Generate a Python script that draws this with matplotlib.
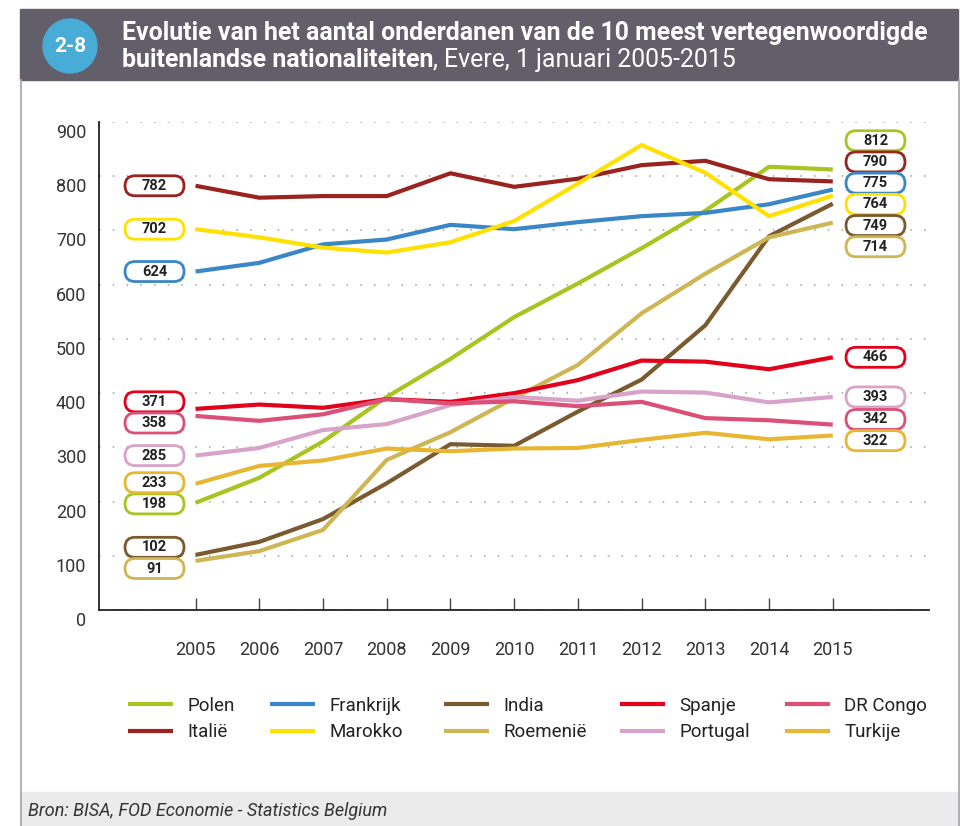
import matplotlib
matplotlib.use('Agg')
import numpy as np
import matplotlib.pyplot as plt
import matplotlib.transforms as mtransforms
from matplotlib.patches import FancyBboxPatch, Rectangle, Circle
from matplotlib.lines import Line2D

plt.rcParams['font.family'] = ['Roboto', 'DejaVu Sans']

jaren = list(range(2005, 2016))

# aantallen per nationaliteit, 1 januari
polen = [198, 244, 311, 393, 463, 540, 602, 667, 736, 817, 812]
frankrijk = [624, 640, 674, 683, 710, 702, 715, 726, 732, 748, 775]
india = [102, 126, 168, 234, 306, 303, 366, 425, 525, 689, 749]
spanje = [371, 379, 373, 389, 384, 400, 424, 460, 458, 444, 466]
drcongo = [358, 349, 361, 389, 381, 385, 376, 384, 354, 350, 342]
italie = [782, 760, 763, 763, 805, 780, 795, 820, 828, 794, 790]
marokko = [702, 687, 668, 659, 678, 717, 786, 857, 806, 726, 764]
roemenie = [91, 109, 148, 277, 328, 391, 452, 547, 620, 687, 714]
portugal = [285, 299, 332, 343, 378, 393, 386, 403, 401, 383, 393]
turkije = [233, 266, 276, 298, 293, 298, 299, 314, 327, 315, 322]

reeksen = {
    'Polen': polen, 'Italië': italie, 'Frankrijk': frankrijk, 'Marokko': marokko,
    'India': india, 'Roemenië': roemenie, 'Spanje': spanje, 'Portugal': portugal,
    'DR Congo': drcongo, 'Turkije': turkije,
}
kleuren = {
    'Polen': '#a9c420', 'Italië': '#98231f', 'Frankrijk': '#3a86c6', 'Marokko': '#ffe100',
    'India': '#7a5a2f', 'Roemenië': '#cdb653', 'Spanje': '#e2001b', 'Portugal': '#d8a3c8',
    'DR Congo': '#dc4f76', 'Turkije': '#e7b733',
}
# legendakolommen zoals in het origineel
legenda_kolommen = [['Polen', 'Italië'], ['Frankrijk', 'Marokko'], ['India', 'Roemenië'],
                    ['Spanje', 'Portugal'], ['DR Congo', 'Turkije']]

W, H = 960, 826
fig = plt.figure(figsize=(W / 100, H / 100), dpi=100)

def fx(px):
    return px / W

def fy(py):
    return 1 - py / H

# kader, kop en voet
fig.patches.append(Rectangle((fx(20), fy(80)), fx(938), 71 / H, transform=fig.transFigure,
                             color='#625f6b', zorder=0))
fig.patches.append(Rectangle((fx(20), 0), fx(940), 34 / H, transform=fig.transFigure,
                             color='#ebebec', zorder=0))
fig.lines.append(Line2D([fx(20.5), fx(20.5)], [0, fy(80)], transform=fig.transFigure,
                        color='#a9a9b0', lw=1.3))
fig.lines.append(Line2D([fx(959), fx(959)], [0, fy(80)], transform=fig.transFigure,
                        color='#a9a9b0', lw=1.3))
fig.patches.append(Circle((0.70, (H - 46) / 100), 0.27, transform=fig.dpi_scale_trans,
                          color='#48acd6', zorder=1))
fig.text(fx(70), fy(46), '2-8', color='white', fontsize=15, fontweight='bold',
         ha='center', va='center')

t1 = fig.text(fx(122), fy(33), 'Evolutie van het aantal onderdanen van de 10 meest vertegenwoordigde',
              color='white', fontsize=16, fontweight='bold', va='center')
fig.canvas.draw()
# lettergrootte zo kiezen dat de eerste titelregel even breed is als in het origineel
titel_pt = 16 * 806 / t1.get_window_extent().width
t1.set_fontsize(titel_pt)
t2 = fig.text(fx(122), fy(60), 'buitenlandse nationaliteiten', color='white', fontsize=titel_pt,
              fontweight='bold', va='center')
fig.canvas.draw()
bb = t2.get_window_extent()
fig.text(bb.x1 / W, fy(60), ', Evere, 1 januari 2005-2015', color='white', fontsize=titel_pt,
         va='center')

fig.text(fx(28), fy(811), 'Bron: BISA, FOD Economie - Statistics Belgium', color='#333333',
         fontsize=13, style='italic', va='center')

# grafiek
ax = fig.add_axes([fx(99.3), fy(610.3), (929 - 99.3) / W, (610.3 - 121.7) / H])
xmin, xmax = 2003.49, 2016.51
ax.set_xlim(xmin, xmax)
ax.set_ylim(0, 900)

lijnen = {}
for naam, waarden in reeksen.items():
    lijnen[naam], = ax.plot(jaren, waarden, color=kleuren[naam], lw=3, solid_capstyle='butt',
                            zorder=3, label=naam)

ax.set_yticks(range(0, 1000, 100))
ax.yaxis.grid(True, linestyle=(0, (1, 8)), color='#a0a0a0', lw=1.1)
ax.set_axisbelow(True)
ax.tick_params(axis='y', length=0, labelleft=False)
lbl_trans = ax.get_yaxis_transform() + mtransforms.ScaledTranslation(-0.13, -0.11, fig.dpi_scale_trans)
for v in range(0, 1000, 100):
    ax.text(0, v, str(v), transform=lbl_trans, ha='right', va='center', fontsize=13, color='#333333')

ax.set_xticks(jaren)
ax.tick_params(axis='x', direction='in', length=9, width=1, color='#444444', pad=22,
               labelsize=13, labelcolor='#333333')
for s in ['top', 'right']:
    ax.spines[s].set_visible(False)
for s in ['left', 'bottom']:
    ax.spines[s].set_color('#222222')
    ax.spines[s].set_linewidth(1.3)

# waardelabels links (2005) en rechts (2015)
ax_w = (929 - 99.3)
ax_h = (610.3 - 121.7)
xpu = ax_w / (xmax - xmin)   # pixels per jaar
ypu = ax_h / 900             # pixels per eenheid
box_w, box_h = 59 / xpu, 20 / ypu
aspect = (1 / ypu) / (1 / xpu)

def spreid(waarden, gap):
    # labels uit elkaar houden, groepen gecentreerd op hun gemiddelde
    volg = sorted(range(len(waarden)), key=lambda i: -waarden[i])
    groepen = [[i] for i in volg]
    changed = True
    while changed:
        changed = False
        pos = []
        for g in groepen:
            m = np.mean([waarden[i] for i in g])
            top = m + gap * (len(g) - 1) / 2
            pos.append([top - gap * k for k in range(len(g))])
        for k in range(len(groepen) - 1):
            if pos[k][-1] - pos[k + 1][0] < gap:
                groepen[k] = groepen[k] + groepen[k + 1]
                del groepen[k + 1]
                changed = True
                break
    res = [0] * len(waarden)
    for g in groepen:
        m = np.mean([waarden[i] for i in g])
        top = m + gap * (len(g) - 1) / 2
        for k, i in enumerate(g):
            res[i] = top - gap * k
    return res

namen = list(reeksen.keys())
for idx, cx_px in [(0, 154.5), (-1, 875.5)]:
    vals = [reeksen[n][idx] for n in namen]
    posities = spreid(vals, 21.2 / ypu)
    cx = xmin + (cx_px - 99.3) / xpu
    for n, v, p in zip(namen, vals, posities):
        box = FancyBboxPatch((cx - box_w / 2, p - box_h / 2), box_w, box_h,
                             boxstyle='round,pad=0,rounding_size=%f' % (10 / xpu),
                             mutation_aspect=aspect, transform=ax.transData,
                             fc='white', ec=kleuren[n], lw=2, clip_on=False, zorder=5)
        ax.add_patch(box)
        ax.text(cx, p, str(v), ha='center', va='center', fontsize=10.5, fontweight='bold',
                color='#222222', zorder=6, clip_on=False)

# legenda: vijf kolommen van twee, elk op zijn eigen plaats
for kol, x_px in zip(legenda_kolommen, [128, 270, 444, 620, 785]):
    fig.legend([lijnen[n] for n in kol], kol, loc='upper left',
               bbox_to_anchor=(fx(x_px), fy(697)), frameon=False, fontsize=13.5,
               handlelength=2.4, handletextpad=0.75, labelspacing=0.45, borderpad=0,
               borderaxespad=0, labelcolor='#222222')

fig.savefig('out.png', dpi=100)
